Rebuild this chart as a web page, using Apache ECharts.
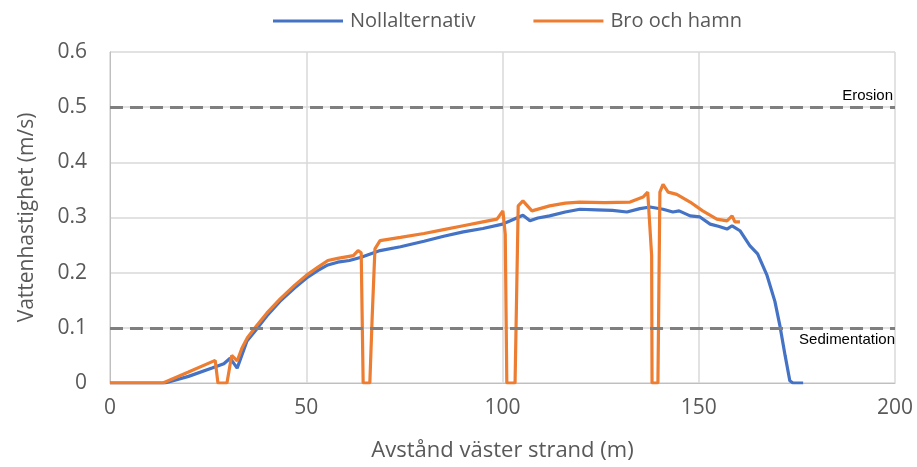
<!DOCTYPE html>
<html>
<head>
<meta charset="utf-8">
<script src="https://cdn.jsdelivr.net/npm/echarts@6/dist/echarts.min.js"></script>
<style>html,body{margin:0;padding:0;background:#fff}#c{width:917px;height:467px}</style>
</head>
<body>
<div id="c"></div>
<script>
const seriesNames = ['Nollalternativ', 'Bro och hamn'];
const xTicks = [0, 50, 100, 150, 200];
const yTicks = [0, 0.1, 0.2, 0.3, 0.4, 0.5, 0.6];

const blueX = [0,14,20,26,29,30.6,32.4,34.9,37.5,40,43.3,47,50,53,55.5,58,61,64,68.8,74,80,85,90,95,100,102,105.2,107,109,112,116,119.7,124,128,131.7,135,137.6,140.9,143.4,145,147.8,150.3,152.9,155,157.2,158.5,160.5,163,165,167.4,169.4,170.7,172,173.2,174,176.6];
const blueY = [0,0,0.012,0.027,0.035,0.045,0.027,0.076,0.099,0.122,0.148,0.172,0.19,0.204,0.214,0.219,0.222,0.228,0.24,0.247,0.257,0.266,0.274,0.28,0.288,0.294,0.304,0.294,0.299,0.303,0.31,0.315,0.314,0.313,0.31,0.316,0.319,0.315,0.31,0.312,0.303,0.301,0.288,0.284,0.279,0.285,0.276,0.249,0.234,0.195,0.148,0.103,0.05,0.004,0,0];

const orangeX = [0,13.5,20,26.8,27.5,29.8,31,32.4,33.6,35,37.5,40,43.3,47,50,53,55.5,58,62,63.2,64,64.5,66.2,66.8,67.5,68.8,74,80,85,90,95,98.6,100.1,100.7,101.1,103.2,104,105.2,107.5,112,116,119.7,126,132.5,135.8,137,138,138.1,139.6,140.1,140.9,142.2,144.4,147.8,151,154.6,157.2,158.5,159.2,160.5];
const orangeY = [0,0,0.02,0.041,0,0,0.05,0.04,0.063,0.082,0.105,0.127,0.152,0.177,0.195,0.21,0.222,0.226,0.231,0.24,0.236,0,0,0.12,0.243,0.258,0.264,0.271,0.278,0.285,0.292,0.297,0.312,0.27,0,0,0.321,0.33,0.312,0.321,0.326,0.328,0.327,0.328,0.337,0.346,0.231,0,0,0.346,0.36,0.346,0.342,0.328,0.312,0.297,0.294,0.303,0.292,0.292];

const thresholdNames = ['Sedimentation', 'Erosion'];
const thresholdValues = [0.1, 0.5];

const zip = (xs, ys) => xs.map((x, i) => [x, ys[i]]);
const font = '"Open Sans", "Noto Sans", sans-serif';

const chart = echarts.init(document.getElementById('c'), null, {renderer: 'canvas'});
chart.setOption({
  animation: false,
  grid: {left: 110, right: 22, top: 52, bottom: 82},
  legend: {
    top: 11, left: 273, padding: 0,
    itemWidth: 70, itemHeight: 3, itemGap: 58,
    textStyle: {fontFamily: font, fontSize: 20, color: '#595959', padding: [0, 0, 0, 2]},
    data: seriesNames.map(n => ({name: n, icon: 'rect'}))
  },
  xAxis: {
    type: 'value', min: xTicks[0], max: xTicks[xTicks.length - 1], interval: 50,
    name: 'Avstånd väster strand (m)', nameLocation: 'middle', nameGap: 57,
    nameTextStyle: {fontFamily: font, fontSize: 22, color: '#595959'},
    axisLine: {show: true, lineStyle: {color: '#bfbfbf', width: 1}},
    axisTick: {show: false},
    axisLabel: {fontFamily: font, fontSize: 21, color: '#595959', margin: 15},
    splitLine: {show: true, lineStyle: {color: '#d9d9d9', width: 1.5}}
  },
  yAxis: {
    type: 'value', min: yTicks[0], max: yTicks[yTicks.length - 1], interval: 0.1,
    name: 'Vattenhastighet (m/s)', nameLocation: 'middle', nameGap: 72,
    nameTextStyle: {fontFamily: font, fontSize: 21, color: '#595959'},
    axisLine: {show: true, lineStyle: {color: '#bfbfbf', width: 1}},
    axisTick: {show: false},
    axisLabel: {fontFamily: font, fontSize: 21, color: '#595959', margin: 23,
      formatter: v => (Math.round(v * 10) / 10).toString()},
    splitLine: {show: true, lineStyle: {color: '#d9d9d9', width: 1.5}}
  },
  series: [
    {
      name: seriesNames[0], type: 'line', symbol: 'none', z: 3,
      lineStyle: {color: '#4472C4', width: 3.2}, itemStyle: {color: '#4472C4'},
      data: zip(blueX, blueY)
    },
    {
      name: seriesNames[1], type: 'line', symbol: 'none', z: 4,
      lineStyle: {color: '#ED7D31', width: 3.2}, itemStyle: {color: '#ED7D31'},
      data: zip(orangeX, orangeY)
    },
    {
      name: 'thresholds', type: 'line', data: [], z: 2,
      markLine: {
        silent: true, symbol: 'none',
        lineStyle: {color: '#7f7f7f', width: 3, type: [13, 7]},
        data: thresholdValues.map((v, i) => ({
          yAxis: v,
          label: {
            show: true, formatter: thresholdNames[i],
            position: i === 0 ? 'insideEndBottom' : 'insideEndTop',
            distance: i === 0 ? [0, 5] : [2, 4],
            color: '#000', fontFamily: 'Liberation Sans, Arial, sans-serif', fontSize: 15
          }
        }))
      }
    }
  ]
});
</script>
</body>
</html>
